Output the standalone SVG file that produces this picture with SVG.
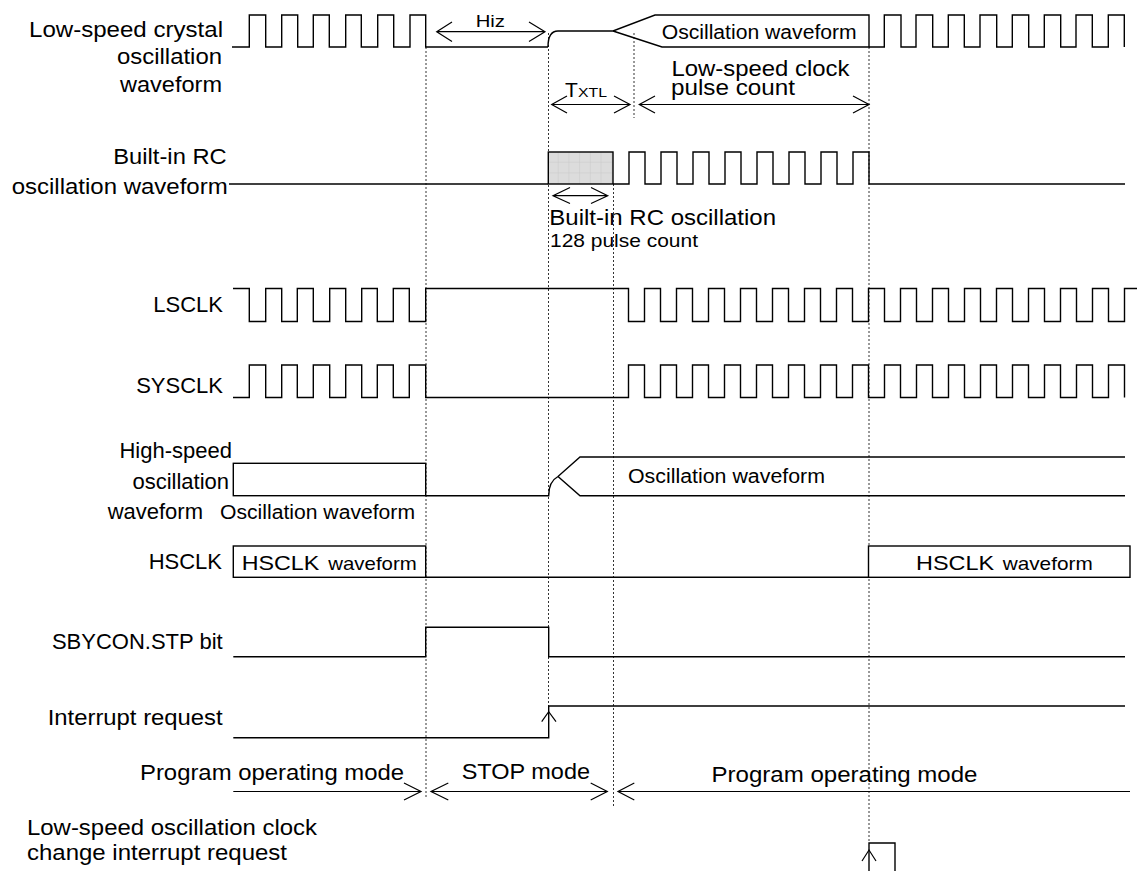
<svg xmlns="http://www.w3.org/2000/svg" width="1138" height="871" viewBox="0 0 1138 871">
<style>
text{font-family:"Liberation Sans",Arial,sans-serif;fill:#000}
.l{font-size:22px}
.m{font-size:20px}
.e{text-anchor:end}
.w{fill:none;stroke:#000;stroke-width:1.4}
.d{fill:none;stroke:#333;stroke-width:1;stroke-dasharray:2 2}
.a{fill:none;stroke:#000;stroke-width:1.2}
.b{fill:#fff;stroke:#000;stroke-width:1.4}
</style>
<defs>
<pattern id="grid" width="10.7" height="10.7" patternUnits="userSpaceOnUse" x="548" y="152">
<rect width="10.7" height="10.7" fill="#dcdcdc"/>
<path d="M10.7,0V10.7M0,10.7H10.7" stroke="#c4c4c4" stroke-width="0.8"/>
</pattern>
</defs>
<rect width="1138" height="871" fill="#fff"/>

<g id="connectors">
<path class="d" d="M426,47V797M548.5,33V706M613.5,184V808M634,33V118M869,47V843"/>
<path class="a" d="M436.7,31.7H545M452,22L436.7,31.7L452,41.5M529,22L545,31.7L529,41.5"/>
<path class="a" d="M551.7,104.5H630M567,96L551.7,104.5L567,113M614,96L630,104.5L614,113"/>
<path class="a" d="M639.3,104.5H869M655,96L639.3,104.5L655,113M853,96L869,104.5L853,113"/>
<path class="a" d="M553,195.7H607.7M570,187.5L553,195.7L570,203.5M591,187.5L607.7,195.7L591,203.5"/>
<path class="a" d="M233.3,791.5H421M404,783L421,791.5L404,800"/>
<path class="a" d="M431,791.5H607.3M448.3,783L431,791.5L448.3,800M590.7,783L607.3,791.5L590.7,800"/>
<path class="a" d="M618,791.5H1130M634.3,783L618,791.5L634.3,800"/>
</g>

<g id="lowspeed-crystal">
<text class="l e" x="223" y="37" textLength="194" lengthAdjust="spacingAndGlyphs">Low-speed crystal</text>
<text class="l e" x="222" y="64" textLength="105" lengthAdjust="spacingAndGlyphs">oscillation</text>
<text class="l e" x="222" y="91.5" textLength="102" lengthAdjust="spacingAndGlyphs">waveform</text>
<path class="w" d="M232,47H249.3V15H265.7V47H281.7V15H297.7V47H313.3V15H329.3V47H345.7V15H361.3V47H377.7V15H393.7V47H410V15H425.7V47H548"/>
<path class="w" d="M548,47C548,37 551,31 558,31L613,31L655,15H869V47H662L613,31"/>
<path class="w" d="M869,47H884.3V15H901V47H916V15H932.7V47H948.3V15H964.3V47H980V15H996.7V47H1012.3V15H1028.7V47H1044.3V15H1060.7V47H1076V15H1092.3V47H1108.3V15H1124.3V47"/>
<text class="m" x="661.7" y="39.3" textLength="195" lengthAdjust="spacingAndGlyphs">Oscillation waveform</text>
<text style="font-size:17px" x="475.7" y="26.7" textLength="29.3" lengthAdjust="spacingAndGlyphs">Hiz</text>
<text style="font-size:21px" x="565" y="97">T</text>
<text style="font-size:13px" x="578" y="97" textLength="29" lengthAdjust="spacingAndGlyphs">XTL</text>
<text class="l" x="671.5" y="75.5" textLength="178" lengthAdjust="spacingAndGlyphs">Low-speed clock</text>
<text class="l" x="671" y="95" textLength="124" lengthAdjust="spacingAndGlyphs">pulse count</text>
</g>

<g id="builtin-rc">
<text class="l e" x="226.7" y="163.5" textLength="113.4" lengthAdjust="spacingAndGlyphs">Built-in RC</text>
<text class="l e" x="227.7" y="194" textLength="216" lengthAdjust="spacingAndGlyphs">oscillation waveform</text>
<path class="w" d="M229,184H548"/>
<rect x="548.3" y="152" width="64.7" height="32" fill="url(#grid)" stroke="#000" stroke-width="1.4"/>
<path class="w" d="M613,184H629V152H645V184H661V152H677V184H693V152H709V184H725V152H741V184H757V152H773V184H789V152H805V184H821V152H837V184H853V152H869V184H1125"/>
<text class="l" x="549.3" y="225" textLength="226.7" lengthAdjust="spacingAndGlyphs">Built-in RC oscillation</text>
<text style="font-size:18.5px" x="550" y="247" textLength="148" lengthAdjust="spacingAndGlyphs">128 pulse count</text>
</g>

<g id="lsclk">
<text class="l e" x="223" y="312">LSCLK</text>
<path class="w" d="M233,288.5H249.3V321.5H265.7V288.5H281.7V321.5H297.3V288.5H313.3V321.5H329.7V288.5H345.7V321.5H361.7V288.5H377.3V321.5H393.3V288.5H409.3V321.5H425.7V288.5H628.5V321.5H644.5V288.5H660.5V321.5H676.5V288.5H692.5V321.5H708.5V288.5H724.5V321.5H740.5V288.5H756.5V321.5H772.5V288.5H788.5V321.5H804.5V288.5H820.5V321.5H836.5V288.5H852.5V321.5H868.5V288.5H884.5V321.5H900.5V288.5H916.5V321.5H932.5V288.5H948.5V321.5H964.5V288.5H980.5V321.5H996.5V288.5H1012.5V321.5H1028.5V288.5H1044.5V321.5H1060.5V288.5H1076.5V321.5H1092.5V288.5H1108.5V321.5H1124.5V288.5H1137"/>
</g>

<g id="sysclk">
<text class="l e" x="223" y="393">SYSCLK</text>
<path class="w" d="M233,397.5H249.3V365H265.7V397.5H281.7V365H297.3V397.5H313.3V365H329.7V397.5H345.7V365H361.7V397.5H377.3V365H393.3V397.5H409.3V365H425.7V397.5H628.5V365H644.5V397.5H660.5V365H676.5V397.5H692.5V365H708.5V397.5H724.5V365H740.5V397.5H756.5V365H772.5V397.5H788.5V365H804.5V397.5H820.5V365H836.5V397.5H852.5V365H868.5V397.5H884.5V365H900.5V397.5H916.5V365H932.5V397.5H948.5V365H964.5V397.5H980.5V365H996.5V397.5H1012.5V365H1028.5V397.5H1044.5V365H1060.5V397.5H1076.5V365H1092.5V397.5H1108.5V365H1124.5V397.5"/>
</g>

<g id="highspeed-osc">
<text class="l e" x="232" y="458">High-speed</text>
<text class="l e" x="229" y="489">oscillation</text>
<text class="l e" x="203" y="519">waveform</text>
<rect class="b" x="233.3" y="463.3" width="192.4" height="32.4"/>
<text class="m" x="220" y="519" textLength="195" lengthAdjust="spacingAndGlyphs">Oscillation waveform</text>
<path class="w" d="M425.7,495.7H548.7C548.7,486 551.5,480 558,476.5L580,457H1125M558,476.5L580,495.7H1125"/>
<text class="m" x="628" y="483.3" textLength="197" lengthAdjust="spacingAndGlyphs">Oscillation waveform</text>
</g>

<g id="hsclk">
<text class="l e" x="222" y="568.5">HSCLK</text>
<rect class="b" x="233.3" y="546" width="192.4" height="31.3"/>
<text style="font-size:21px" x="241.7" y="570" textLength="77.6" lengthAdjust="spacingAndGlyphs">HSCLK</text>
<text style="font-size:19px" x="328.3" y="570" textLength="88.4" lengthAdjust="spacingAndGlyphs">waveform</text>
<path class="w" d="M425.7,577.3H868.5"/>
<rect class="b" x="868.5" y="546" width="261.5" height="31.3"/>
<text style="font-size:21px" x="916" y="570" textLength="78" lengthAdjust="spacingAndGlyphs">HSCLK</text>
<text style="font-size:19px" x="1002.7" y="570" textLength="90" lengthAdjust="spacingAndGlyphs">waveform</text>
</g>

<g id="sbycon">
<text class="l e" x="222.7" y="649.3">SBYCON.STP bit</text>
<path class="w" d="M233.3,656.7H425.7V627.3H548.7V656.7H1125"/>
</g>

<g id="interrupt">
<text class="l e" x="222.7" y="725" textLength="175" lengthAdjust="spacingAndGlyphs">Interrupt request</text>
<path class="w" d="M233.3,737.7H548.7V706H1125"/>
<path class="a" d="M541.7,721.7L548.7,711.7L556,721.7"/>
</g>

<g id="modes">
<text class="l e" x="404" y="779.5" textLength="264" lengthAdjust="spacingAndGlyphs">Program operating mode</text>
<text class="l" x="461.7" y="778.5" textLength="128.3" lengthAdjust="spacingAndGlyphs">STOP mode</text>
<text class="l" x="711.5" y="782" textLength="266" lengthAdjust="spacingAndGlyphs">Program operating mode</text>
</g>

<g id="ls-change-int">
<text class="l" x="27" y="835" textLength="290" lengthAdjust="spacingAndGlyphs">Low-speed oscillation clock</text>
<text class="l" x="27" y="860" textLength="260" lengthAdjust="spacingAndGlyphs">change interrupt request</text>
<path class="w" d="M869,871V843H895V871"/>
<path class="a" d="M862,861L869,850L876,861"/>
</g>
</svg>
